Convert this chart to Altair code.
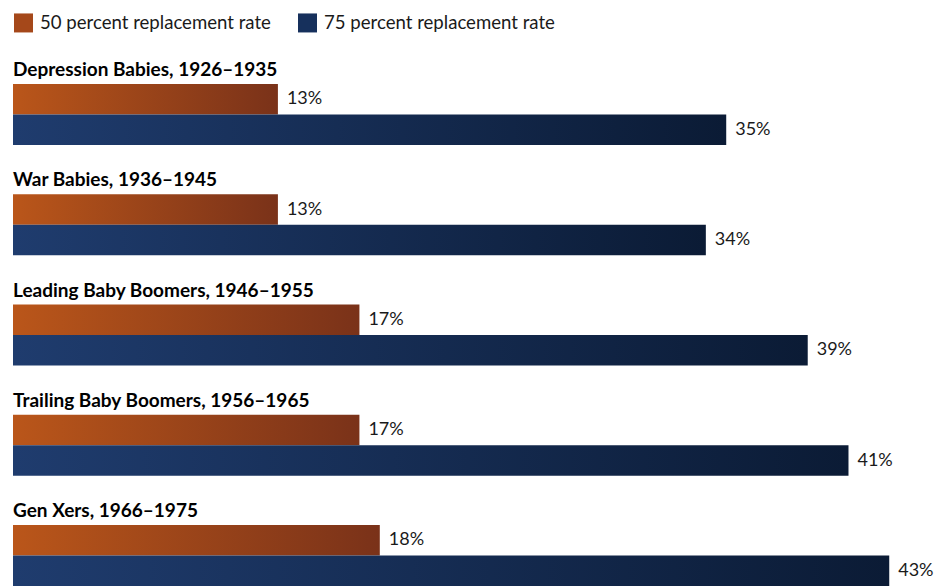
import altair as alt
import pandas as pd

groups = [
    "Depression Babies, 1926–1935",
    "War Babies, 1936–1945",
    "Leading Baby Boomers, 1946–1955",
    "Trailing Baby Boomers, 1956–1965",
    "Gen Xers, 1966–1975",
]
series = ["50 percent replacement rate", "75 percent replacement rate"]
rate_50 = [13, 13, 17, 17, 18]
rate_75 = [35, 34, 39, 41, 43]

rows = []
for g, a, b in zip(groups, rate_50, rate_75):
    rows.append({"group": g, "series": series[0], "value": a, "label": f"{a}%"})
    rows.append({"group": g, "series": series[1], "value": b, "label": f"{b}%"})
df = pd.DataFrame(rows)
titles_df = pd.DataFrame({"group": groups})

FONT = "Lato"
y_scale = alt.Scale(domain=groups, paddingInner=0.448, paddingOuter=0)
yo_scale = alt.Scale(domain=series, paddingInner=0, paddingOuter=0)
x_scale = alt.Scale(domain=[0, 45], nice=False, zero=True)

X = alt.X("value:Q", scale=x_scale, axis=None)
Y = alt.Y("group:N", scale=y_scale, axis=None, sort=groups)
YO = alt.YOffset("series:N", scale=yo_scale, sort=series)

orange = alt.LinearGradient(
    gradient="linear", x1=0, x2=1, y1=0, y2=0,
    stops=[alt.GradientStop(color="#BA561A", offset=0),
           alt.GradientStop(color="#7A3219", offset=1)],
)
blue = alt.LinearGradient(
    gradient="linear", x1=0, x2=1, y1=0, y2=0,
    stops=[alt.GradientStop(color="#1F3C6E", offset=0),
           alt.GradientStop(color="#0B1B35", offset=1)],
)

base = alt.Chart(df)

legend_layer = base.mark_bar(opacity=0).encode(
    x=X, y=Y, yOffset=YO,
    color=alt.Color(
        "series:N",
        scale=alt.Scale(domain=series, range=["#A5481A", "#16305C"]),
        legend=alt.Legend(
            title=None, orient="none", legendX=1, legendY=-71,
            direction="horizontal", symbolType="square", symbolSize=361,
            symbolStrokeWidth=0, symbolOpacity=1,
            labelFont=FONT, labelFontSize=18.6, labelColor="#1a1a1a",
            labelOffset=7, labelLimit=500, columnPadding=27, padding=0, rowPadding=0,
        ),
    ),
)

bar50 = base.transform_filter(alt.datum.series == series[0]).mark_bar(fill=orange).encode(
    x=X, y=Y, yOffset=YO
)
bar75 = base.transform_filter(alt.datum.series == series[1]).mark_bar(fill=blue).encode(
    x=X, y=Y, yOffset=YO
)

labels = base.mark_text(
    align="left", baseline="middle", dx=9, font=FONT, fontSize=18, color="#1a1a1a"
).encode(x=X, y=Y, yOffset=YO, text="label:N")

titles = alt.Chart(titles_df).mark_text(
    align="left", baseline="alphabetic", dy=-8, font=FONT, fontSize=19,
    fontWeight="bold", color="#000000",
).encode(
    x=alt.datum(0),
    y=alt.Y("group:N", scale=y_scale, axis=None, sort=groups, bandPosition=0),
    text="group:N",
)

chart = alt.layer(legend_layer, bar50, bar75, labels, titles).properties(
    width=917,
    height=502,
    autosize=alt.AutoSizeParams(type="none"),
    padding={"left": 13, "top": 84, "right": 5, "bottom": 0},
).configure_view(stroke=None)

chart.save("out.html", embed_options={"renderer": "svg", "actions": False})
